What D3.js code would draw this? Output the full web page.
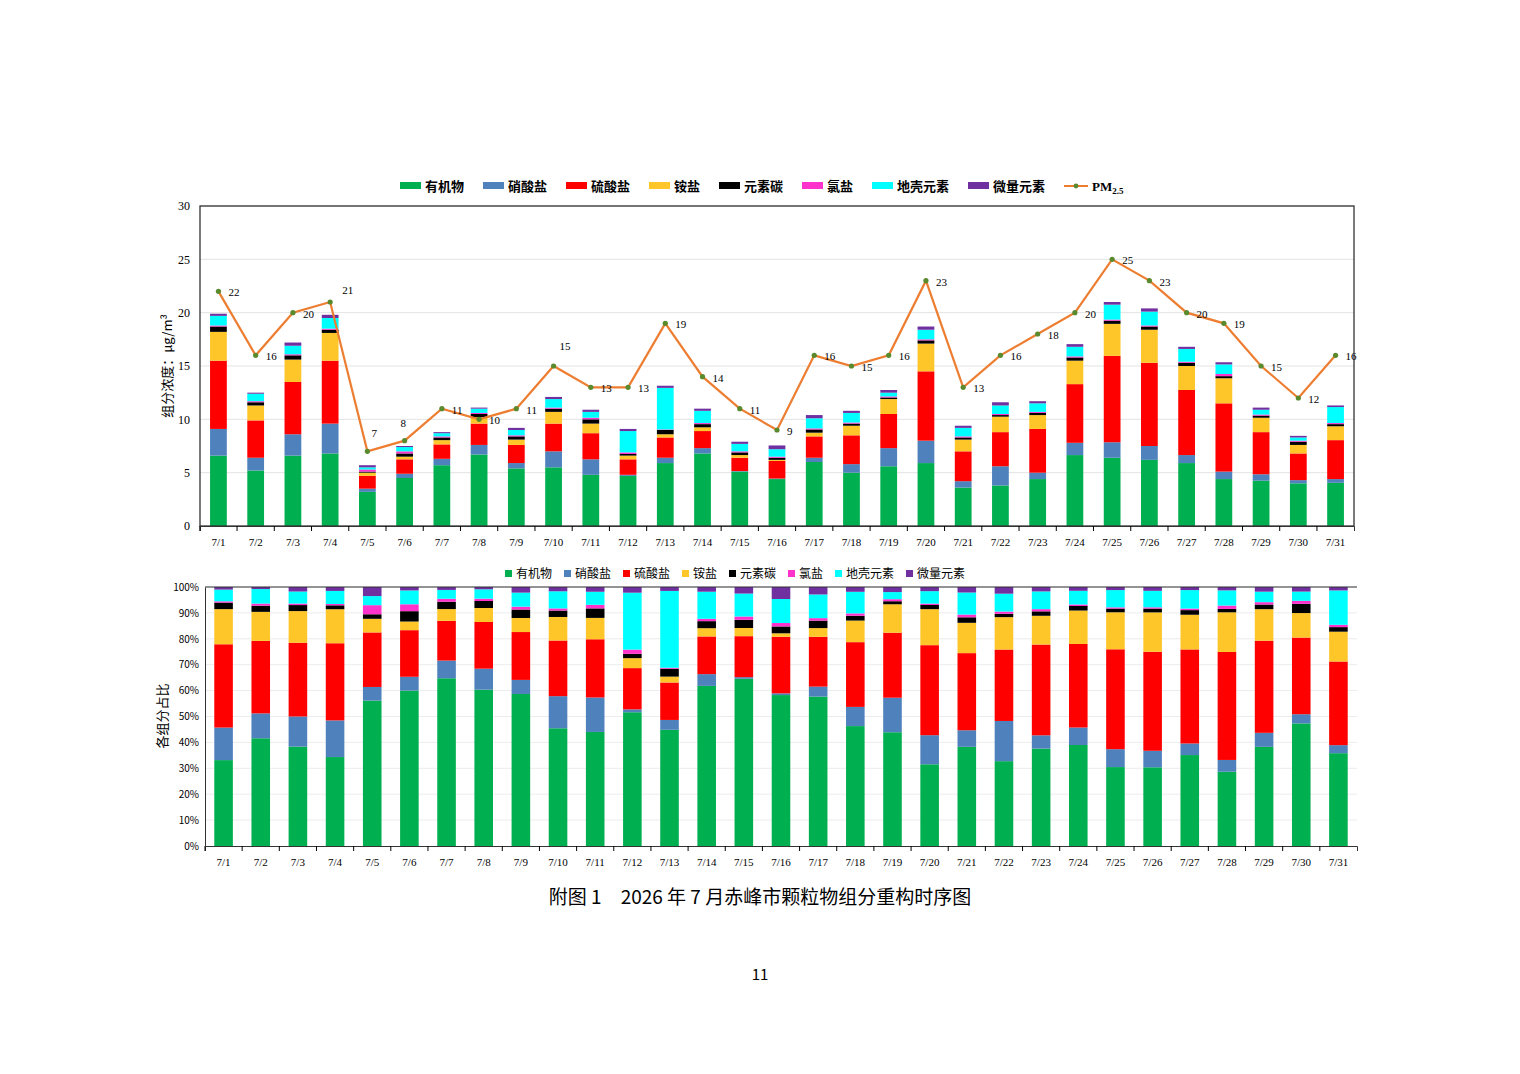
<!doctype html>
<html lang="zh">
<head>
<meta charset="utf-8">
<title>2026年7月赤峰市颗粒物组分重构时序图</title>
<style>
  body { margin: 0; background: #fff; }
  svg text { font-family: "Liberation Serif", "Noto Sans CJK SC", serif; }
  .cjk { font-family: "Noto Sans CJK SC", sans-serif !important; }
</style>
</head>
<body>
<svg id="chart" width="1520" height="1074"></svg>
<script src="https://d3js.org/d3.v7.min.js"></script>
<script>
// days
var days = d3.range(1, 32).map(function(d){ return "7/" + d; });

// component names and colours
var comps = ["有机物", "硝酸盐", "硫酸盐", "铵盐", "元素碳", "氯盐", "地壳元素", "微量元素"];
var colors = ["#00b050", "#4f81bd", "#ff0000", "#ffc629", "#000000", "#ff33cc", "#00ffff", "#7030a0"];

// component concentrations, ug/m3
var organic  = [6.6,5.2,6.6,6.8,3.2,4.5,5.7,6.7,5.4,5.5,4.8,4.7,5.9,6.8,5.1,4.4,6.0,5.0,5.6,5.9,3.6,3.8,4.4,6.65,6.4,6.2,5.9,4.4,4.25,4.0,4.05];
var nitrate  = [2.5,1.2,2.0,2.8,0.3,0.4,0.6,0.9,0.5,1.5,1.45,0.1,0.5,0.5,0.05,0.05,0.4,0.8,1.7,2.1,0.6,1.8,0.6,1.15,1.45,1.3,0.75,0.7,0.6,0.3,0.35];
var sulfate  = [6.4,3.5,4.9,5.9,1.2,1.35,1.35,2.0,1.7,2.6,2.45,1.45,1.9,1.6,1.25,1.65,2.0,2.7,3.2,6.5,2.8,3.2,4.1,5.5,8.1,7.8,6.1,6.4,3.95,2.5,3.65];
var ammonium = [2.7,1.4,2.1,2.6,0.3,0.25,0.4,0.6,0.5,1.1,0.9,0.35,0.3,0.35,0.25,0.1,0.35,0.9,1.4,2.6,1.1,1.45,1.3,2.2,3.0,3.1,2.25,2.35,1.35,0.8,1.3];
var ecarbon  = [0.5,0.3,0.4,0.3,0.1,0.3,0.25,0.3,0.3,0.3,0.4,0.15,0.4,0.3,0.25,0.2,0.3,0.2,0.15,0.3,0.2,0.15,0.2,0.3,0.3,0.3,0.3,0.2,0.2,0.3,0.2];
var chloride = [0.1,0.1,0.1,0.1,0.2,0.2,0.1,0.1,0.1,0.1,0.15,0.15,0.05,0.1,0.1,0.1,0.1,0.1,0.1,0.1,0.1,0.1,0.1,0.1,0.1,0.1,0.1,0.2,0.1,0.1,0.1];
var crustal  = [0.9,0.7,0.8,1.0,0.2,0.4,0.3,0.4,0.5,0.8,0.55,2.0,3.9,1.15,0.7,0.7,0.95,0.9,0.35,0.9,0.8,0.8,0.8,0.9,1.4,1.3,1.2,0.9,0.45,0.3,1.5];
var trace    = [0.2,0.1,0.3,0.3,0.2,0.1,0.1,0.1,0.2,0.2,0.2,0.2,0.2,0.2,0.2,0.35,0.3,0.2,0.25,0.3,0.2,0.3,0.2,0.25,0.25,0.3,0.2,0.2,0.2,0.15,0.15];

// measured PM2.5
var pm25 = [22,16,20,21,7,8,11,10,11,15,13,13,19,14,11,9,16,15,16,23,13,16,18,20,25,23,20,19,15,12,16];

var series = [organic, nitrate, sulfate, ammonium, ecarbon, chloride, crustal, trace];
var rows = days.map(function(d, i){
  var r = { day: d };
  comps.forEach(function(c, k){ r[c] = series[k][i]; });
  return r;
});

var svg = d3.select("#chart");

// ---------- top chart: concentrations ----------
var m1 = { left: 200, right: 1354, top: 206, bottom: 526 };
var x1 = d3.scaleBand().domain(days).range([m1.left, m1.right]).paddingInner(0.55).paddingOuter(0.27);
var y1 = d3.scaleLinear().domain([0, 30]).range([m1.bottom, m1.top]);

svg.append("g").selectAll("line").data(y1.ticks(6).slice(1))
  .enter().append("line")
  .attr("x1", m1.left).attr("x2", m1.right)
  .attr("y1", function(d){ return y1(d); }).attr("y2", function(d){ return y1(d); })
  .attr("stroke", "#e3e3e3");

var stack1 = d3.stack().keys(comps)(rows);
svg.append("g").selectAll("g").data(stack1).enter().append("g")
  .attr("fill", function(d, i){ return colors[i]; })
  .selectAll("rect").data(function(d){ return d; }).enter().append("rect")
  .attr("x", function(d){ return x1(d.data.day); })
  .attr("width", x1.bandwidth())
  .attr("y", function(d){ return y1(d[1]); })
  .attr("height", function(d){ return Math.max(0, y1(d[0]) - y1(d[1])); });

svg.append("rect").attr("x", m1.left).attr("y", m1.top)
  .attr("width", m1.right - m1.left).attr("height", m1.bottom - m1.top)
  .attr("fill", "none").attr("stroke", "#333").attr("stroke-width", 1.3);

var ax1 = svg.append("g").attr("transform", "translate(0," + m1.bottom + ")")
  .call(d3.axisBottom(x1).tickSizeOuter(0).tickSize(5));
ax1.selectAll("text").attr("font-size", 11).attr("dy", "1.1em");
ax1.selectAll(".tick line").attr("transform", "translate(" + (-x1.step() / 2) + ",0)");
ax1.select(".domain").attr("stroke", "#333");

var ay1 = svg.append("g").attr("transform", "translate(" + m1.left + ",0)")
  .call(d3.axisLeft(y1).ticks(6).tickSize(0).tickPadding(10));
ay1.select(".domain").remove();
ay1.selectAll("text").attr("font-size", 12);

svg.append("text").attr("class", "cjk")
  .attr("transform", "translate(172,366) rotate(-90)")
  .attr("text-anchor", "middle").attr("font-size", 13)
  .text("组分浓度：μg/m³");

// PM2.5 line
var line = d3.line()
  .x(function(d, i){ return x1(days[i]) + x1.bandwidth() / 2; })
  .y(function(d){ return y1(d); });
svg.append("path").datum(pm25).attr("d", line)
  .attr("fill", "none").attr("stroke", "#ed7d31").attr("stroke-width", 2.2);
svg.append("g").selectAll("circle").data(pm25).enter().append("circle")
  .attr("cx", function(d, i){ return x1(days[i]) + x1.bandwidth() / 2; })
  .attr("cy", function(d){ return y1(d); })
  .attr("r", 2.6).attr("fill", "#5a8a2e");

// label offsets for points where the label sits above
var lift = { 3: [12, -8], 4: [4, -14], 5: [-4, -14], 9: [6, -16] };
svg.append("g").selectAll("text").data(pm25).enter().append("text")
  .attr("x", function(d, i){ return x1(days[i]) + x1.bandwidth() / 2 + (lift[i] ? lift[i][0] : 10); })
  .attr("y", function(d, i){ return y1(d) + (lift[i] ? lift[i][1] : 5); })
  .attr("font-size", 11)
  .text(function(d){ return d; });

// top legend
var leg1 = svg.append("g").attr("transform", "translate(400,186)");
var lx = 0;
comps.forEach(function(c, i){
  var g = leg1.append("g").attr("transform", "translate(" + lx + ",0)");
  g.append("rect").attr("x", 0).attr("y", -4).attr("width", 21).attr("height", 7).attr("fill", colors[i]);
  g.append("text").attr("class", "cjk").attr("x", 25).attr("y", 5)
    .attr("font-size", 13).attr("font-weight", "bold").text(c);
  lx += 25 + c.length * 13 + 19;
});
var lg = leg1.append("g").attr("transform", "translate(" + lx + ",0)");
lg.append("line").attr("x1", 0).attr("x2", 24).attr("y1", 0).attr("y2", 0).attr("stroke", "#ed7d31").attr("stroke-width", 2);
lg.append("circle").attr("cx", 12).attr("cy", 0).attr("r", 2.4).attr("fill", "#5a8a2e");
var lt = lg.append("text").attr("x", 28).attr("y", 5).attr("font-size", 13).attr("font-weight", "bold");
lt.append("tspan").text("PM");
lt.append("tspan").attr("font-size", 9).attr("dy", 3).text("2.5");

// ---------- bottom chart: shares ----------
var m2 = { left: 205, right: 1357, top: 587, bottom: 846 };
var x2 = d3.scaleBand().domain(days).range([m2.left, m2.right]).paddingInner(0.5).paddingOuter(0.25);
var y2 = d3.scaleLinear().domain([0, 1]).range([m2.bottom, m2.top]);

svg.append("g").selectAll("line").data(y2.ticks(10).slice(1))
  .enter().append("line")
  .attr("x1", m2.left).attr("x2", m2.right)
  .attr("y1", function(d){ return y2(d); }).attr("y2", function(d){ return y2(d); })
  .attr("stroke", "#ececec");

var stack2 = d3.stack().keys(comps).offset(d3.stackOffsetExpand)(rows);
svg.append("g").selectAll("g").data(stack2).enter().append("g")
  .attr("fill", function(d, i){ return colors[i]; })
  .selectAll("rect").data(function(d){ return d; }).enter().append("rect")
  .attr("x", function(d){ return x2(d.data.day); })
  .attr("width", x2.bandwidth())
  .attr("y", function(d){ return y2(d[1]); })
  .attr("height", function(d){ return Math.max(0, y2(d[0]) - y2(d[1])); });

var ax2 = svg.append("g").attr("transform", "translate(0," + m2.bottom + ")")
  .call(d3.axisBottom(x2).tickSizeOuter(0).tickSize(5));
ax2.selectAll("text").attr("font-size", 11).attr("dy", "1.1em");
ax2.selectAll(".tick line").attr("transform", "translate(" + (-x2.step() / 2) + ",0)");
ax2.select(".domain").attr("stroke", "#333");

var ay2 = svg.append("g").attr("transform", "translate(" + m2.left + ",0)")
  .call(d3.axisLeft(y2).ticks(10, "%").tickSize(0).tickPadding(6).tickSizeOuter(0));
ay2.select(".domain").attr("stroke", "#333");
ay2.selectAll("text").attr("class", "cjk").attr("font-size", 10);
svg.append("line").attr("x1", m2.left).attr("x2", m2.right).attr("y1", m2.top).attr("y2", m2.top).attr("stroke", "#333");

svg.append("text").attr("class", "cjk")
  .attr("transform", "translate(167,716) rotate(-90)")
  .attr("text-anchor", "middle").attr("font-size", 13)
  .text("各组分占比");

var leg2 = svg.append("g").attr("transform", "translate(505,573)");
lx = 0;
comps.forEach(function(c, i){
  var g = leg2.append("g").attr("transform", "translate(" + lx + ",0)");
  g.append("rect").attr("x", 0).attr("y", -3).attr("width", 7).attr("height", 7).attr("fill", colors[i]);
  g.append("text").attr("class", "cjk").attr("x", 11).attr("y", 5).attr("font-size", 12).text(c);
  lx += 11 + c.length * 12 + 12;
});

// caption and page number
svg.append("text").attr("class", "cjk").attr("x", 760).attr("y", 904)
  .attr("text-anchor", "middle").attr("font-size", 19)
  .text("附图 1　2026 年 7 月赤峰市颗粒物组分重构时序图");
svg.append("text").attr("class", "cjk").attr("x", 760).attr("y", 980)
  .attr("text-anchor", "middle").attr("font-size", 15).text("11");
</script>
</body>
</html>
